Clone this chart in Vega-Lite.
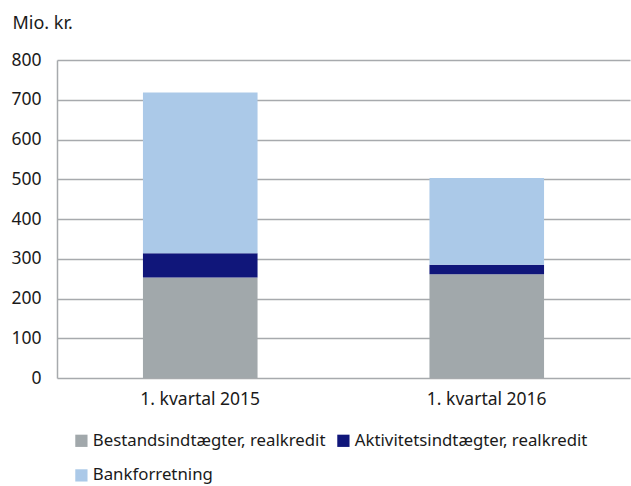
{
  "$schema": "https://vega.github.io/schema/vega-lite/v6.json",
  "width": 573,
  "height": 318,
  "autosize": {"type": "none"},
  "padding": {"left": 57, "top": 60, "right": 1, "bottom": 108},
  "background": "white",
  "config": {
    "font": "Noto Sans",
    "view": {"stroke": null}
  },
  "data": {
    "values": [
      {"periode": "1. kvartal 2015", "serie": "Bestandsindtægter, realkredit", "ord": 1, "vaerdi": 253},
      {"periode": "1. kvartal 2015", "serie": "Aktivitetsindtægter, realkredit", "ord": 2, "vaerdi": 61},
      {"periode": "1. kvartal 2015", "serie": "Bankforretning", "ord": 3, "vaerdi": 404},
      {"periode": "1. kvartal 2016", "serie": "Bestandsindtægter, realkredit", "ord": 1, "vaerdi": 261},
      {"periode": "1. kvartal 2016", "serie": "Aktivitetsindtægter, realkredit", "ord": 2, "vaerdi": 24},
      {"periode": "1. kvartal 2016", "serie": "Bankforretning", "ord": 3, "vaerdi": 218}
    ]
  },
  "mark": {"type": "bar"},
  "encoding": {
    "x": {
      "field": "periode",
      "type": "nominal",
      "sort": null,
      "scale": {"paddingInner": 0.6, "paddingOuter": 0.3},
      "axis": {
        "title": null,
        "labelAngle": 0,
        "labelFontSize": 17.5,
        "labelColor": "#1a1a1a",
        "labelPadding": 12,
        "ticks": false,
        "domain": false
      }
    },
    "y": {
      "field": "vaerdi",
      "type": "quantitative",
      "stack": "zero",
      "scale": {"domain": [0, 800], "nice": false},
      "axis": {
        "title": "Mio. kr.",
        "titleAngle": 0,
        "titleAlign": "left",
        "titleBaseline": "alphabetic",
        "titleX": -45,
        "titleY": -32,
        "titleFontSize": 18,
        "titleFontWeight": "normal",
        "titleColor": "#1a1a1a",
        "values": [0, 100, 200, 300, 400, 500, 600, 700, 800],
        "labelFontSize": 17.5,
        "labelColor": "#1a1a1a",
        "labelPadding": 16,
        "ticks": false,
        "domain": true,
        "domainColor": "#a7aaad",
        "domainWidth": 1.5,
        "grid": true,
        "gridColor": "#a7aaad",
        "gridWidth": 1.5
      }
    },
    "color": {
      "field": "serie",
      "type": "nominal",
      "sort": ["Bestandsindtægter, realkredit", "Aktivitetsindtægter, realkredit", "Bankforretning"],
      "scale": {
        "domain": ["Bestandsindtægter, realkredit", "Aktivitetsindtægter, realkredit", "Bankforretning"],
        "range": ["#a1a8ab", "#10167a", "#abc9e8"]
      },
      "legend": {
        "title": null,
        "orient": "none",
        "direction": "horizontal",
        "legendX": 16,
        "legendY": 372,
        "columns": 2,
        "columnPadding": 9,
        "rowPadding": 17,
        "symbolType": "square",
        "symbolSize": 150,
        "symbolStrokeWidth": 0,
        "labelFontSize": 16.8,
        "labelLimit": 400,
        "labelColor": "#1a1a1a",
        "labelOffset": 3
      }
    },
    "order": {"field": "ord", "type": "quantitative"}
  }
}
